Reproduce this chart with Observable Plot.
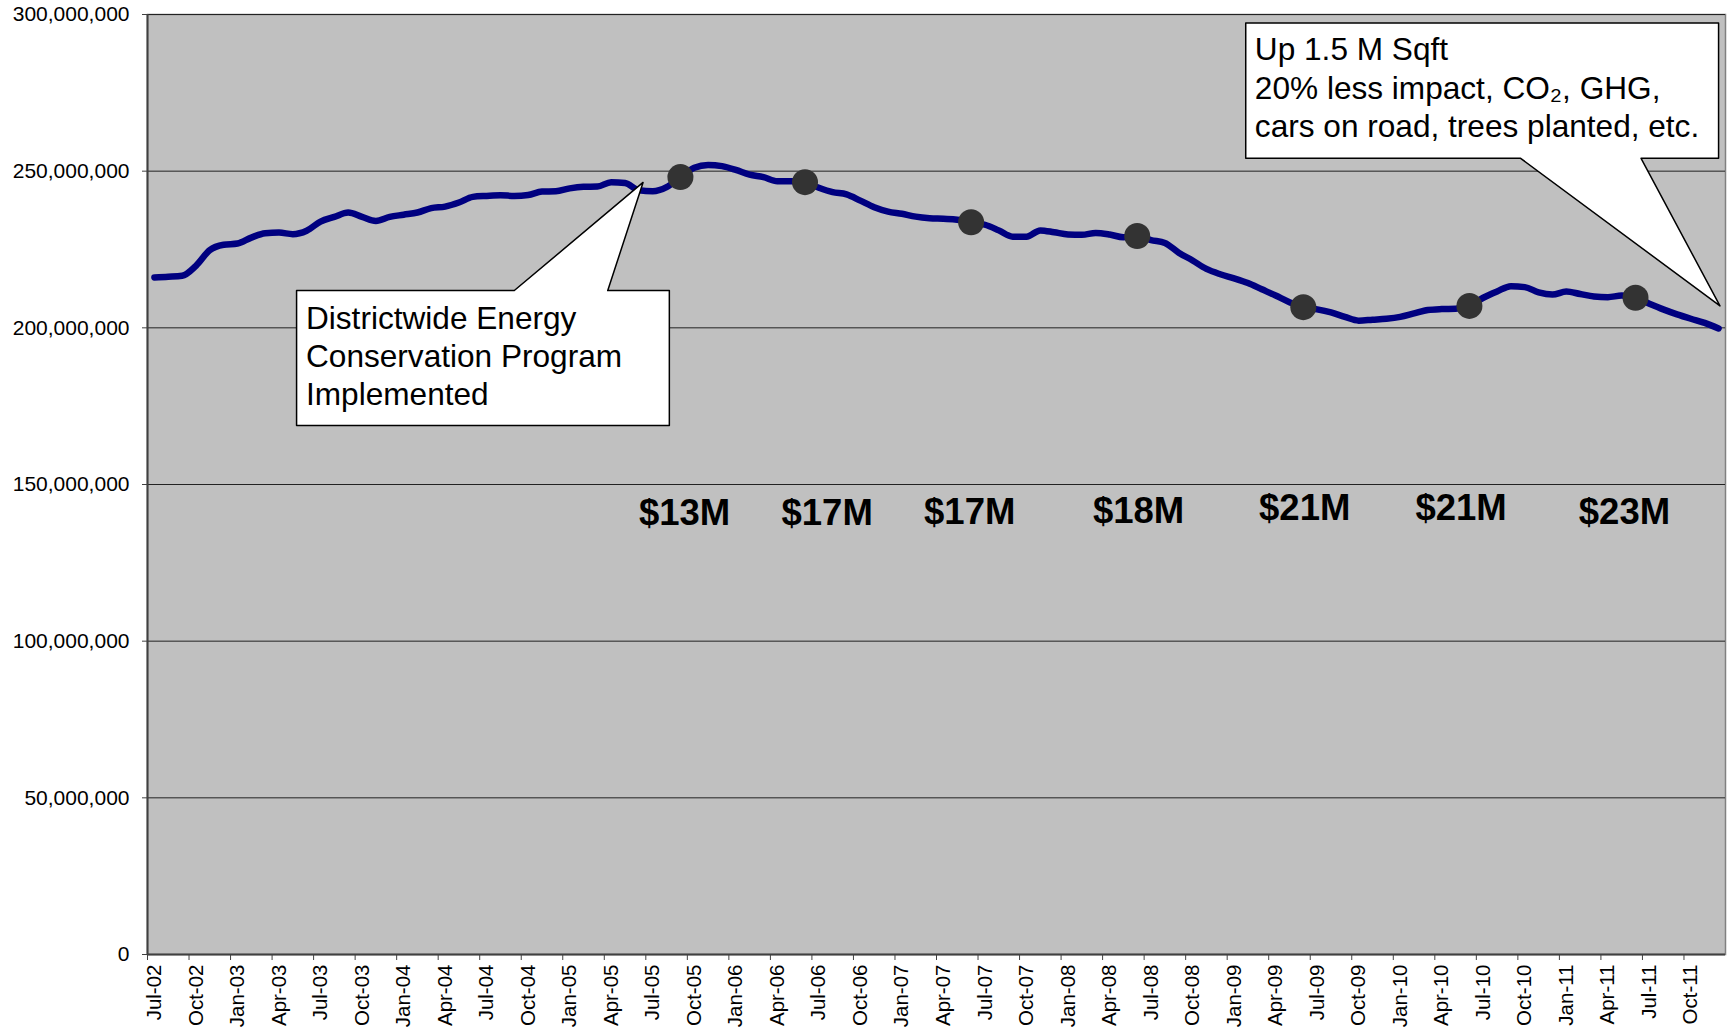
<!DOCTYPE html>
<html><head><meta charset="utf-8">
<script src="https://cdn.jsdelivr.net/npm/d3@7"></script>
<script src="https://cdn.jsdelivr.net/npm/@observablehq/plot@0.6"></script>
<style>
body{margin:0;background:#fff;font-family:"Liberation Sans",Arial,sans-serif;}
</style></head><body><div id="chart"></div>
<script>
// Monthly energy use (millions), Jul-02 .. Dec-11
const energyM = [
  216.1, 216.3, 216.6, 219.8, 224.8, 226.5, 226.9, 228.8, 230.2, 230.4,
  229.9, 231.0, 233.9, 235.4, 236.8, 235.4, 234.1, 235.4, 236.1, 236.8,
  238.2, 238.7, 240.0, 241.8, 242.1, 242.3, 242.1, 242.4, 243.5, 243.6,
  244.5, 245.0, 245.1, 246.5, 246.2, 243.9, 243.6, 244.9, 248.1, 251.1,
  252.0, 251.6, 250.4, 248.9, 248.1, 246.8, 246.8, 246.5, 244.7, 243.3,
  242.6, 240.6, 238.5, 237.1, 236.4, 235.5, 235.0, 234.8, 234.5, 233.7,
  232.9, 231.1, 229.1, 229.1, 231.1, 230.5, 229.8, 229.7, 230.3, 229.8,
  228.9, 229.3, 228.0, 227.1, 224.0, 221.5, 218.8, 217.1, 215.8, 214.3,
  212.3, 210.3, 208.2, 206.6, 205.9, 204.9, 203.5, 202.3, 202.6, 202.9,
  203.5, 204.6, 205.7, 206.0, 206.1, 207.0, 209.6, 211.6, 213.3, 213.0,
  211.3, 210.6, 211.6, 210.8, 210.0, 209.8, 210.3, 209.6, 207.7, 205.9,
  204.3, 202.9, 201.6, 199.8
];
const tickLabels = [
  "Jul-02","Oct-02",
  "Jan-03","Apr-03","Jul-03","Oct-03",
  "Jan-04","Apr-04","Jul-04","Oct-04",
  "Jan-05","Apr-05","Jul-05","Oct-05",
  "Jan-06","Apr-06","Jul-06","Oct-06",
  "Jan-07","Apr-07","Jul-07","Oct-07",
  "Jan-08","Apr-08","Jul-08","Oct-08",
  "Jan-09","Apr-09","Jul-09","Oct-09",
  "Jan-10","Apr-10","Jul-10","Oct-10",
  "Jan-11","Apr-11","Jul-11","Oct-11"
];
const yTicks = [0, 50e6, 100e6, 150e6, 200e6, 250e6, 300e6];
// milestone months (index from Jul-02) and cumulative savings labels
const milestoneIdx = [38, 47, 59, 71, 83, 95, 107];
const savingsLabels = ["$13M", "$17M", "$17M", "$18M", "$21M", "$21M", "$23M"];
const callout1Text = "Districtwide Energy\nConservation Program\nImplemented";
const callout2Text = "Up 1.5 M Sqft\n20% less impact, CO\u2082, GHG,\ncars on road, trees planted, etc.";

// ---- annotation placement (month index, millions) ----
const savingsPos = [[38.3,140.8],[48.6,140.8],[58.9,141.0],[71.1,141.4],[83.1,142.3],[94.4,142.3],[106.2,141.2]];
const callout1Shape = [[10.27,211.9],[26.0,211.9],[35.3,246.4],[32.75,211.9],[37.2,211.9],[37.2,168.8],[10.27,168.8],[10.27,211.9]];
const callout2Shape = [[78.84,297.3],[113.0,297.3],[113.0,254.1],[107.4,254.1],[113.1,207.0],[98.7,254.1],[78.84,254.1],[78.84,297.3]];
const callout1Anchor = [10.95, 191.4];
const callout2Anchor = [79.5, 277.0];

const data = energyM.map((v, i) => ({i, v: v * 1e6}));
const tickIdx = tickLabels.map((_, k) => k * 3);
const boundaryIdx = tickIdx.map(i => i - 0.5);
const milestones = milestoneIdx.map(i => ({i, v: energyM[i] * 1e6}));
const savings = savingsLabels.map((t, k) => ({t, x: savingsPos[k][0], y: savingsPos[k][1] * 1e6}));
const toPts = s => s.map(([x, y]) => ({x, y: y * 1e6}));

const chart = Plot.plot({
  width: 1731,
  height: 1034,
  marginLeft: 147,
  marginRight: 6,
  marginTop: 14,
  marginBottom: 80,
  style: {fontFamily: "'Liberation Sans', Arial, sans-serif", fontSize: "20px", background: "#fff", color: "#000"},
  x: {type: "linear", domain: [-0.5, energyM.length - 0.5]},
  y: {domain: [0, 300e6]},
  marks: [
    Plot.frame({fill: "#C0C0C0", stroke: "#808080", strokeWidth: 1.5}),
    Plot.gridY(yTicks, {stroke: "#222", strokeOpacity: 1, strokeWidth: 1}),
    Plot.axisY({ticks: yTicks, tickFormat: d3.format(","), tickSize: 5, tickPadding: 13, fontSize: 21, stroke: "#404040"}),
    Plot.axisX({ticks: tickIdx, tickFormat: d => tickLabels[d / 3], tickSize: 0, tickRotate: -90, tickPadding: 10, fontSize: 20.5}),
    Plot.axisX({ticks: boundaryIdx, tickFormat: () => "", tickSize: 6, stroke: "#404040"}),
    Plot.ruleX([-0.5], {stroke: "#404040", strokeWidth: 2}),
    Plot.ruleY([0], {stroke: "#404040", strokeWidth: 2}),
    Plot.line(data, {x: "i", y: "v", stroke: "#000080", strokeWidth: 6.5, curve: "monotone-x", strokeLinejoin: "round", strokeLinecap: "round"}),
    Plot.dot(milestones, {x: "i", y: "v", r: 13, fill: "#333333", stroke: "none"}),
    Plot.text(savings, {x: "x", y: "y", text: "t", fontSize: 36.5, fontWeight: "bold", fill: "#000", textAnchor: "middle", lineAnchor: "middle"}),
    Plot.line(toPts(callout1Shape), {x: "x", y: "y", fill: "#fff", stroke: "#000", strokeWidth: 1.5}),
    Plot.line(toPts(callout2Shape), {x: "x", y: "y", fill: "#fff", stroke: "#000", strokeWidth: 1.5}),
    Plot.text([callout1Text], {x: callout1Anchor[0], y: callout1Anchor[1] * 1e6, text: d => d, textAnchor: "start", lineAnchor: "middle", lineHeight: 1.21, fontSize: 31.6, fill: "#000"}),
    Plot.text([callout2Text], {x: callout2Anchor[0], y: callout2Anchor[1] * 1e6, text: d => d, textAnchor: "start", lineAnchor: "middle", lineHeight: 1.22, fontSize: 31.6, fill: "#000"})
  ]
});
document.getElementById("chart").append(chart);
</script>
</body></html>
